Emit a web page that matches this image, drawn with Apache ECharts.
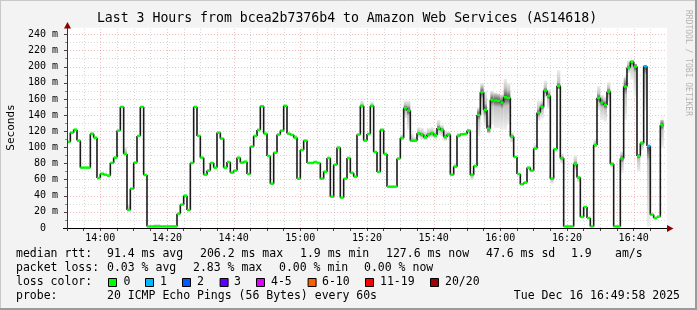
<!DOCTYPE html>
<html><head><meta charset="utf-8">
<script src="https://cdn.jsdelivr.net/npm/echarts@6/dist/echarts.min.js"></script>
<style>html,body{margin:0;padding:0;background:#f3f3f3}#c{width:697px;height:310px}</style>
</head><body><div id="c"></div><script>
// ---------------- DATA ----------------
const titleText = 'Last 3 Hours from bcea2b7376b4 to Amazon Web Services (AS14618)';
const timeLabels = ['14:00','14:20','14:40','15:00','15:20','15:40','16:00','16:20','16:40'];
const timeLabelMinutes = [10,30,50,70,90,110,130,150,170]; // minutes after 13:50
// median RTT (ms), one value per minute starting 13:50
const medianRtt = [
 106.8,118.3,122,108.4,74.9,74.9,74.9,116.7,112,62,67.4,66.2,65,80.7,87.3,120.8,150.2,91.9,22.3,48.8,81.1,114.2,150.2,65.8,
 1.9,1.9,1.9,1.9,1.9,1.9,1.9,1.9,1.9,
 17.8,29,40.1,22.3,80.7,150.2,114.2,87.3,66.2,71.2,80.7,74.9,118.3,110.9,74.9,81.9,68.7,71.2,87.3,81.1,82.3,67,101,114.2,121.7,151,117.1,
 89.4,55,93.5,115.9,120.8,151.5,117.1,115.5,112.1,61.2,96.8,108.4,80.7,80.7,81.9,80.7,61.2,69.9,86.9,38.9,78.6,99.7,37.7,61.2,86.9,68.3,63.7,115.9,151.5,108.4,
 116.7,151.5,94.3,69.5,121.7,91.9,51.3,51.3,51.3,86.1,111.7,148.6,145.7,108.4,108.4,117.5,115.9,112.6,115.9,117.5,115,124.1,121.7,113,115.9,66.2,76.1,114.6,116.3,116.7,
 120.8,65.8,77,140.3,168.4,146.5,123.3,158.9,158.1,157.7,155.6,162.2,161.4,113.4,88.1,67,54.2,56.3,74.9,71.2,98.5,143.2,150.2,170.5,163.9,61.2,97.7,176.3,86.5,1.9,
 1.9,1.9,79.4,62.5,13.7,26.1,12.4,1.9,103,161.4,155.6,152.7,169.2,79.4,1.9,1.9,86.1,175.4,199,206.2,200.3,89.4,105.1,200.7,101.8,16.6,12.4,14.1,127.6
];
const lossIndex = [173,174];
const lossCount = [1,1];
const smokeIndex = [7,17,18,26,27,68,81,88,91,94,100,101,102,103,104,105,106,107,108,109,110,111,112,113,114,116,117,120,121,122,123,124,125,126,127,128,129,130,131,132,133,140,141,142,143,144,145,146,147,148,152,153,158,159,160,161,162,163,166,167,168,169,170,171,172,173,174,178];
const smokeHigh  = [120,101,30,5,5,116,102,158,157,124,116,158,158,117,113,125,124,120,124,125,122,134,128,121,120,81,118,123,68,79,150,180,170,148,170,168,167,166,185,180,118,104,158,158,183,172,63,100,196,92,90,65,110,176,165,163,181,82,95,188,208,208,204,92,108,200,101,134];
const smokeLow   = [116,92,22,2,2,111,99,148,149,119,108,136,122,107,106,112,110,109,111,112,110,115,114,108,112,75,112,117,59,76,114,140,126,118,128,124,124,122,122,128,106,98,133,136,162,148,55,96,172,80,72,57,100,146,134,132,157,75,68,134,192,184,163,70,96,146,2,99];
const lossLegend = ['0','1','2','3','4-5','6-10','11-19','20/20'];
const lossColors = ['#00ff00','#00b8ff','#0059ff','#5e00ff','#dd00ff','#ff5e00','#ff0000','#a10000'];
const statsRow1 = ['median rtt:','91.4 ms avg','206.2 ms max','1.9 ms min','127.6 ms now','47.6 ms sd','1.9','am/s'];
const statsRow2 = ['packet loss:','0.03 % avg','2.83 % max','0.00 % min','0.00 % now'];
const lossLabel = 'loss color:';
const probeRow = ['probe:','20 ICMP Echo Pings (56 Bytes) every 60s'];
const dateText = 'Tue Dec 16 16:49:58 2025';
const yLabel = 'Seconds';
const sideLabel = 'RRDTOOL / TOBI OETIKER';

// ---------------- LAYOUT ----------------
const MONO = '"DejaVu Sans Mono", monospace';
const row1X = [16,107,200,300,386,486,571,615];
const row2X = [16,107,193,279,364];
const boxX = [108,145,182,219.6,256,307.6,365,430];
const boxLabelX = [123.5,160,197,234,271,322,380,445];
const rowY = [254.3,268.3,282.3,296];
const MAJOR = 'rgba(230,110,110,0.45)';
const MINOR = 'rgba(160,160,160,0.42)';

function lossBucket(c){ if(c<=0) return 0; if(c===1) return 1; if(c===2) return 2; if(c===3) return 3; if(c<=5) return 4; if(c<=10) return 5; if(c<=19) return 6; return 7; }
const medianData = medianRtt.map((v,k)=>{
  const li = lossIndex.indexOf(k);
  return [k, v, k>0 ? medianRtt[k-1] : v, li>=0 ? lossBucket(lossCount[li]) : 0];
});
const smokeData = smokeIndex.map((k,i)=>[k, smokeHigh[i], smokeLow[i], medianRtt[k]]);
const gridData = [];
for (let m=5; m<180; m+=5) gridData.push([m, timeLabelMinutes.indexOf(m)>=0 ? 1 : 0]);

function txt(text, x, y, opts){
  opts = opts || {};
  return {type:'text', x:x, y:y, z:50, silent:true, rotation: opts.rot||0,
    style:{text:text, font:(opts.size||11.5)+'px '+MONO, fill:opts.color||'#000',
      align:opts.align||'left', textAlign:opts.align||'left', verticalAlign:'middle', textVerticalAlign:'middle'}};
}
const graphics = [];
graphics.push({type:'rect', z:0, silent:true, shape:{x:67,y:27.7,width:600,height:7.5}, style:{fill:'#fff'}});
graphics.push(txt(titleText, 347, 18.5, {size:13.2, align:'center'}));
graphics.push(txt(yLabel, 11, 127.5, {size:11, align:'center', rot:Math.PI/2}));
graphics.push(txt(sideLabel, 688, 63, {size:8, align:'center', rot:-Math.PI/2, color:'#b4b4b4'}));
statsRow1.forEach((s,i)=>graphics.push(txt(s,row1X[i],rowY[0])));
statsRow2.forEach((s,i)=>graphics.push(txt(s,row2X[i],rowY[1])));
graphics.push(txt(lossLabel,16,rowY[2]));
lossLegend.forEach((s,i)=>{
  graphics.push({type:'rect', z:50, silent:true, shape:{x:boxX[i]+0.5,y:278.5,width:8,height:8}, style:{fill:lossColors[i], stroke:'#000', lineWidth:1}});
  graphics.push(txt(s,boxLabelX[i],rowY[2]));
});
graphics.push(txt(probeRow[0],16,rowY[3]));
graphics.push(txt(probeRow[1],107,rowY[3]));
graphics.push(txt(dateText,680,rowY[3],{align:'right'}));
// axis lines and arrows
graphics.push({type:'line', z:40, silent:true, shape:{x1:63,y1:228.5,x2:668,y2:228.5}, style:{stroke:'#000', lineWidth:1}});
graphics.push({type:'line', z:40, silent:true, shape:{x1:67.5,y1:231,x2:67.5,y2:28}, style:{stroke:'#333', lineWidth:1}});
graphics.push({type:'polygon', z:41, silent:true, shape:{points:[[667,225],[673.5,228.5],[667,232]]}, style:{fill:'#8b0000'}});
graphics.push({type:'polygon', z:41, silent:true, shape:{points:[[64,28.5],[67.5,22],[71,28.5]]}, style:{fill:'#8b0000'}});
// frame
graphics.push({type:'line', z:60, silent:true, shape:{x1:0.5,y1:0,x2:0.5,y2:310}, style:{stroke:'#c8c8c8', lineWidth:1}});
graphics.push({type:'line', z:60, silent:true, shape:{x1:0,y1:0.5,x2:697,y2:0.5}, style:{stroke:'#c8c8c8', lineWidth:1}});
graphics.push({type:'line', z:60, silent:true, shape:{x1:696,y1:0,x2:696,y2:310}, style:{stroke:'#9a9a9a', lineWidth:2}});
graphics.push({type:'line', z:60, silent:true, shape:{x1:0,y1:309,x2:697,y2:309}, style:{stroke:'#9a9a9a', lineWidth:2}});

const chart = echarts.init(document.getElementById('c'), null, {renderer:'canvas', width:697, height:310});
chart.setOption({
  animation:false,
  backgroundColor:'#f3f3f3',
  grid:{left:67, right:30, top:34.5, bottom:82, show:true, backgroundColor:'#ffffff', borderWidth:0},
  xAxis:{type:'value', min:0, max:180, interval:5,
    axisLine:{show:false},
    axisTick:{show:true, length:3, lineStyle:{color:'#444'}},
    axisLabel:{fontFamily:'DejaVu Sans Mono', fontSize:10, color:'#000', margin:5,
      formatter:(v)=>{const i=timeLabelMinutes.indexOf(v); return i>=0?timeLabels[i]:'';}},
    splitLine:{show:false}},
  yAxis:{type:'value', min:0, max:240, interval:20,
    axisLine:{show:false},
    axisTick:{show:true, length:3, lineStyle:{color:'#444'}},
    axisLabel:{fontFamily:'DejaVu Sans Mono', fontSize:10, color:'#000', margin:9,
      formatter:(v)=> v===0 ? '0  ' : (v+' m')},
    splitLine:{show:true, lineStyle:{color:MAJOR, type:[1,2], width:1}},
    minorTick:{show:true, splitNumber:2, length:2, lineStyle:{color:'#888'}},
    minorSplitLine:{show:true, lineStyle:{color:MINOR, type:[1,2], width:1}}},
  graphic:graphics,
  series:[
    {type:'custom', name:'vgrid', z:1, silent:true, clip:false, data:gridData, encode:{x:0, y:1},
      renderItem:(p,api)=>{
        const m=api.value(0), major=api.value(1);
        const a=api.coord([m,0]), b=api.coord([m,248]);
        const x=Math.round(a[0])+0.5;
        return {type:'line', shape:{x1:x,y1:a[1],x2:x,y2:b[1]},
          style:{stroke: major ? MAJOR : MINOR, lineWidth:1, lineDash:[1,2]}};
      }},
    {type:'custom', name:'smoke', z:2, silent:true, data:smokeData, encode:{x:0, y:[1,2]},
      renderItem:(p,api)=>{
        const k=api.value(0), hi=api.value(1), lo=api.value(2), med=api.value(3);
        const a=api.coord([k,hi]), b=api.coord([k+1,lo]), m=api.coord([k,med]);
        const h=Math.max(b[1]-a[1],1);
        let f=(m[1]-a[1])/h; f=Math.min(Math.max(f,0),1);
        const s1=Math.max(f-0.18,0), s2=Math.min(f+0.18,1);
        return {type:'rect', shape:{x:a[0], y:a[1], width:b[0]-a[0], height:h},
          style:{fill:new echarts.graphic.LinearGradient(0,0,0,1,[
            {offset:0,color:'#eeeeee'},{offset:s1,color:'#c4c4c4'},{offset:f,color:'#505050'},
            {offset:s2,color:'#c4c4c4'},{offset:1,color:'#eeeeee'}])}};
      }},
    {type:'custom', name:'steps', z:3, silent:true, data:medianData, encode:{x:0, y:1},
      renderItem:(p,api)=>{
        const k=api.value(0), v=api.value(1), pv=api.value(2);
        const a=api.coord([k,pv]), b=api.coord([k,v]), c=api.coord([k+1,v]);
        return {type:'group', children:[
          {type:'line', shape:{x1:b[0],y1:a[1],x2:b[0],y2:b[1]}, style:{stroke:'#1a1a1a', lineWidth:1.6}},
          {type:'line', shape:{x1:b[0],y1:b[1],x2:c[0],y2:c[1]}, style:{stroke:'#1a1a1a', lineWidth:1.2}}
        ]};
      }},
    {type:'custom', name:'median', z:4, silent:true, data:medianData, encode:{x:0, y:1},
      renderItem:(p,api)=>{
        const k=api.value(0), v=api.value(1), li=api.value(3);
        const a=api.coord([k,v]), c=api.coord([k+1,v]);
        return {type:'rect', shape:{x:a[0], y:a[1]-1.25, width:c[0]-a[0], height:2.5}, style:{fill:lossColors[li]}};
      }}
  ]
});
</script></body></html>
